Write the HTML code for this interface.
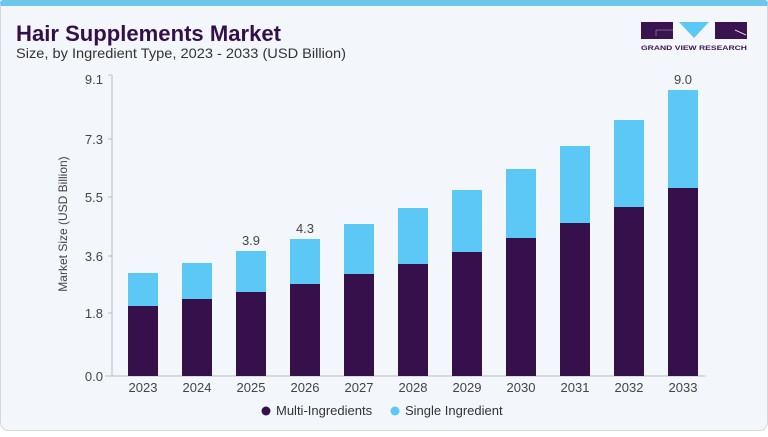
<!DOCTYPE html>
<html><head><meta charset="utf-8"><style>
html,body{margin:0;padding:0;background:#fff;}
body{width:768px;height:432px;overflow:hidden;font-family:"Liberation Sans",sans-serif;}
</style></head><body>
<svg width="768" height="432" viewBox="0 0 768 432" xmlns="http://www.w3.org/2000/svg" font-family="Liberation Sans, sans-serif">
<rect x="0.5" y="0.5" width="767" height="430" rx="8" fill="#f3f7fb" stroke="#d4d8dc"/>
<path d="M0 8 Q0 0 8 0 L760 0 Q768 0 768 8 L768 6 L0 6 Z" fill="#6ec6ea"/>
<rect x="0" y="0" width="768" height="6" rx="3" fill="#6ec6ea"/>
<text x="16" y="41" font-size="22" font-weight="bold" fill="#33104a" textLength="265" lengthAdjust="spacingAndGlyphs">Hair Supplements Market</text>
<text x="16" y="58" font-size="14" fill="#333" textLength="330" lengthAdjust="spacingAndGlyphs">Size, by Ingredient Type, 2023 - 2033 (USD Billion)</text>
<!-- logo -->
<rect x="641" y="22" width="32" height="17" fill="#3a1450"/>
<polygon points="679,22 709,22 694,38" fill="#5bc8f5"/>
<rect x="715" y="22" width="32" height="17" fill="#3a1450"/>
<path d="M656 30 L673 30 M656 30 L656 36" stroke="#8a7a9a" stroke-width="0.8" fill="none"/>
<path d="M735 30 L746 35" stroke="#fff" stroke-width="0.8"/>
<text x="694" y="50" font-size="6.5" font-weight="bold" fill="#3a1450" text-anchor="middle" textLength="106" lengthAdjust="spacingAndGlyphs">GRAND VIEW RESEARCH</text>
<!-- axes -->
<line x1="112" y1="75" x2="112" y2="376" stroke="#bbb"/>
<line x1="105" y1="376" x2="705" y2="376" stroke="#bbb"/>
<g stroke="#bbb"><line x1="108" y1="75" x2="112" y2="75"/><line x1="108" y1="139" x2="112" y2="139"/><line x1="108" y1="197" x2="112" y2="197"/><line x1="108" y1="256" x2="112" y2="256"/><line x1="108" y1="313" x2="112" y2="313"/></g>
<g font-size="13" fill="#444" text-anchor="end">
<text x="103" y="84">9.1</text><text x="103" y="144">7.3</text><text x="103" y="202">5.5</text><text x="103" y="261">3.6</text><text x="103" y="318">1.8</text><text x="103" y="381">0.0</text>
</g>
<text transform="translate(67,224) rotate(-90)" font-size="12" fill="#444" text-anchor="middle">Market Size (USD Billion)</text>
<g fill="#5bc8f5">
<rect x="128" y="273" width="30" height="103"/><rect x="182" y="263" width="30" height="113"/><rect x="236" y="251" width="30" height="125"/><rect x="290" y="239" width="30" height="137"/><rect x="344" y="224" width="30" height="152"/><rect x="398" y="208" width="30" height="168"/><rect x="452" y="190" width="30" height="186"/><rect x="506" y="169" width="30" height="207"/><rect x="560" y="146" width="30" height="230"/><rect x="614" y="120" width="30" height="256"/><rect x="668" y="90" width="30" height="286"/>
</g>
<g fill="#36104a">
<rect x="128" y="306" width="30" height="70"/><rect x="182" y="299" width="30" height="77"/><rect x="236" y="292" width="30" height="84"/><rect x="290" y="284" width="30" height="92"/><rect x="344" y="274" width="30" height="102"/><rect x="398" y="264" width="30" height="112"/><rect x="452" y="252" width="30" height="124"/><rect x="506" y="238" width="30" height="138"/><rect x="560" y="223" width="30" height="153"/><rect x="614" y="207" width="30" height="169"/><rect x="668" y="188" width="30" height="188"/>
</g>
<g font-size="13" fill="#444" text-anchor="middle">
<text x="251" y="245">3.9</text><text x="305" y="233">4.3</text><text x="683" y="84">9.0</text>
<text x="143" y="392">2023</text><text x="197" y="392">2024</text><text x="251" y="392">2025</text><text x="305" y="392">2026</text><text x="359" y="392">2027</text><text x="413" y="392">2028</text><text x="467" y="392">2029</text><text x="521" y="392">2030</text><text x="575" y="392">2031</text><text x="629" y="392">2032</text><text x="683" y="392">2033</text>
</g>
<circle cx="266" cy="411" r="4.5" fill="#36104a"/>
<text x="276" y="415" font-size="13" fill="#333">Multi-Ingredients</text>
<circle cx="395" cy="411" r="4.5" fill="#5bc8f5"/>
<text x="405" y="415" font-size="13" fill="#333">Single Ingredient</text>
</svg>
</body></html>
